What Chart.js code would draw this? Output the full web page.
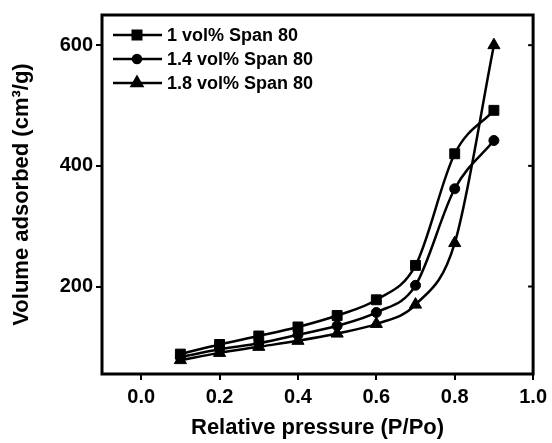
<!DOCTYPE html>
<html>
<head>
<meta charset="utf-8">
<title>Adsorption isotherms</title>
<script src="https://cdn.jsdelivr.net/npm/chart.js@4.4.0/dist/chart.umd.min.js"></script>
<style>
    html, body { margin: 0; padding: 0; background: #fff; }
    #myChart_isotherm { display: block; }
</style>
</head>
<body>
<canvas id="myChart_isotherm" width="552" height="443"></canvas>
<script>

// values
const pressure   = [0.1, 0.2, 0.3, 0.4, 0.5, 0.6, 0.7, 0.8, 0.9];
const span_1_0   = [88, 104, 118, 133, 152, 178, 235, 420, 492];
const span_1_4   = [83, 96, 106, 120, 135, 157, 202, 362, 442];
const span_1_8   = [78, 90, 100, 110, 122, 138, 170, 272, 600];
const series_names = ['1 vol% Span 80', '1.4 vol% Span 80', '1.8 vol% Span 80'];
const x_ticks = [0.0, 0.2, 0.4, 0.6, 0.8, 1.0];
const y_ticks = [200, 400, 600];

const FONT_FAMILY = '"Liberation Sans", Arial, Helvetica, sans-serif';
const tick_font  = { family: FONT_FAMILY, size: 20, weight: 'bold' };
const title_font = { family: FONT_FAMILY, size: 22, weight: 'bold' };

// pair x with y for the linear x scale
function to_points(values)
{
    return values.map((v, i) => ({ x: pressure[i], y: v }));
}

function make_dataset(label, values, style, radius)
{
    return {
        label: label,
        data: to_points(values),
        borderColor: '#000',
        backgroundColor: '#000',
        borderWidth: 2.5,
        pointStyle: style,
        pointRadius: radius,
        pointBackgroundColor: '#000',
        pointBorderColor: '#000',
        pointBorderWidth: 1,
        cubicInterpolationMode: 'monotone',
        fill: false
    };
}

/// frame, inner ticks on the right side and the legend with line + marker
const frame_and_legend = {
    id: 'frame_and_legend',
    afterDraw(chart) {
        const ctx = chart.ctx;
        const area = chart.chartArea;
        const yScale = chart.scales.y;

        ctx.save();
        ctx.strokeStyle = '#000';
        ctx.lineWidth = 3;
        ctx.strokeRect(area.left, area.top, area.right - area.left, area.bottom - area.top);

        // small inward ticks on the right edge
        ctx.lineWidth = 2;
        y_ticks.forEach((v) => {
            const py = yScale.getPixelForValue(v);
            ctx.beginPath();
            ctx.moveTo(area.right, py);
            ctx.lineTo(area.right - 5, py);
            ctx.stroke();
        });

        // legend
        const rows = [35, 59, 83];
        chart.data.datasets.forEach((ds, i) => {
            const y = rows[i];
            ctx.strokeStyle = '#000';
            ctx.fillStyle = '#000';
            ctx.lineWidth = 2.5;
            ctx.beginPath();
            ctx.moveTo(113, y);
            ctx.lineTo(162, y);
            ctx.stroke();
            Chart.helpers.drawPoint(ctx, {
                pointStyle: ds.pointStyle,
                radius: ds.pointRadius - 1,
                rotation: 0,
                borderWidth: 1
            }, 137, y);
            ctx.font = 'bold 18px ' + FONT_FAMILY;
            ctx.textAlign = 'left';
            ctx.textBaseline = 'middle';
            ctx.fillText(ds.label, 167, y + 1);
        });
        ctx.restore();
    }
};

function isotherm_chart()
{
    let element = document.querySelector('#myChart_isotherm').getContext('2d');
    let chart_output = new Chart(element, {
        type: 'line',
        data: {
            datasets: [
                make_dataset(series_names[0], span_1_0, 'rect', 7),
                make_dataset(series_names[1], span_1_4, 'circle', 5),
                make_dataset(series_names[2], span_1_8, 'triangle', 7)
            ]
        },
        options: {
            responsive: false,
            animation: false,
            layout: { padding: { top: 13, right: 18, left: 0, bottom: 0 } },
            plugins: {
                legend: { display: false },
                tooltip: { enabled: false }
            },
            scales: {
                x: {
                    type: 'linear',
                    min: -0.1,
                    max: 1.0,
                    afterBuildTicks: (scale) => { scale.ticks = x_ticks.map(v => ({ value: v })); },
                    afterFit: (scale) => { scale.height = 69; },
                    ticks: {
                        color: '#000',
                        font: tick_font,
                        padding: 5,
                        maxRotation: 0,
                        autoSkip: false,
                        callback: (v) => Number(v).toFixed(1)
                    },
                    grid: {
                        drawOnChartArea: false,
                        drawTicks: true,
                        tickLength: 6,
                        color: '#000',
                        lineWidth: 2
                    },
                    border: { display: false },
                    title: {
                        display: true,
                        text: 'Relative pressure (P/Po)',
                        color: '#000',
                        font: title_font,
                        padding: { top: 0, bottom: 2 }
                    }
                },
                y: {
                    type: 'linear',
                    min: 55,
                    max: 650,
                    afterBuildTicks: (scale) => { scale.ticks = y_ticks.map(v => ({ value: v })); },
                    afterFit: (scale) => { scale.width = 102; },
                    ticks: {
                        color: '#000',
                        font: tick_font,
                        padding: 3,
                        autoSkip: false
                    },
                    grid: {
                        drawOnChartArea: false,
                        drawTicks: true,
                        tickLength: 6,
                        color: '#000',
                        lineWidth: 2
                    },
                    border: { display: false },
                    title: {
                        display: true,
                        text: 'Volume adsorbed (cm³/g)',
                        color: '#000',
                        font: title_font,
                        padding: { top: 9, bottom: 0 }
                    }
                }
            }
        },
        plugins: [frame_and_legend]
    });
}

isotherm_chart();

</script>
</body>
</html>
